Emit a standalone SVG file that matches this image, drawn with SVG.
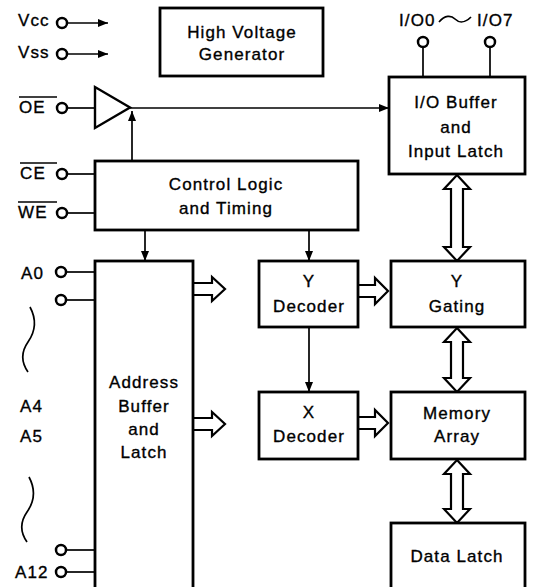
<svg xmlns="http://www.w3.org/2000/svg" width="533" height="587" viewBox="0 0 533 587">
<style>
.box{fill:#fff;stroke:#000;stroke-width:2.8}
.t{font-family:"Liberation Sans",Arial,sans-serif;font-size:17px;letter-spacing:1.1px;fill:#000;stroke:#000;stroke-width:0.35}
.c{text-anchor:middle}
.w{fill:none;stroke:#000;stroke-width:1.7}
.pin{fill:#fff;stroke:#000;stroke-width:2.5}
.hol{fill:#fff;stroke:#000;stroke-width:2.2;stroke-linejoin:miter}
.ob{stroke:#000;stroke-width:1.6}
</style>
<defs>
<marker id="ah" viewBox="0 0 10 8" refX="10" refY="4" markerWidth="10" markerHeight="8" markerUnits="userSpaceOnUse" orient="auto">
<path d="M0,0 L10,4 L0,8 Z" fill="#000"/>
</marker>
</defs>
<rect width="533" height="587" fill="#fff"/>

<g id="connectors">
<line class="w" x1="67" y1="23" x2="108" y2="23" marker-end="url(#ah)"/>
<line class="w" x1="67" y1="54" x2="108" y2="54" marker-end="url(#ah)"/>
<line class="w" x1="67" y1="108" x2="95" y2="108"/>
<line class="w" x1="130" y1="108" x2="389" y2="108" marker-end="url(#ah)"/>
<line class="w" x1="132" y1="161" x2="132" y2="111" marker-end="url(#ah)"/>
<line class="w" x1="67" y1="174" x2="95" y2="174"/>
<line class="w" x1="67" y1="213" x2="95" y2="213"/>
<line class="w" x1="145" y1="230" x2="145" y2="261" marker-end="url(#ah)"/>
<line class="w" x1="309" y1="230" x2="309" y2="261" marker-end="url(#ah)"/>
<line class="w" x1="309" y1="327" x2="309" y2="392" marker-end="url(#ah)"/>
<line class="w" x1="67" y1="272" x2="95" y2="272"/>
<line class="w" x1="67" y1="300" x2="95" y2="300"/>
<line class="w" x1="67" y1="550" x2="95" y2="550"/>
<line class="w" x1="67" y1="572" x2="95" y2="572"/>
<line class="w" x1="423" y1="47" x2="423" y2="77"/>
<line class="w" x1="490" y1="47" x2="490" y2="77"/>
<path class="w" d="M30,307 C37,320 35,332 28,342 C21,352 21,362 28,372"/>
<path class="w" d="M29,477 C36,490 34,502 27,512 C20,522 20,532 27,542"/>
<path class="hol" d="M193,283 H212 V277 L225,289 L212,301 V295 H193"/>
<path class="hol" d="M193,418 H212 V412 L225,424 L212,436 V430 H193"/>
<path class="hol" d="M358,285 H375 V278 L388,291 L375,304 V297 H358"/>
<path class="hol" d="M358,417 H375 V410 L388,423 L375,436 V429 H358"/>
<path class="hol" d="M457,175 L470,189 H463 V247 H470 L457,261 L444,247 H451 V189 H444 Z"/>
<path class="hol" d="M457,328 L470,342 H463 V378 H470 L457,392 L444,378 H451 V342 H444 Z"/>
<path class="hol" d="M457,460 L470,474 H463 V509 H470 L457,523 L444,509 H451 V474 H444 Z"/>
</g>

<g id="pins">
<circle class="pin" cx="62" cy="23" r="5"/>
<circle class="pin" cx="62" cy="54" r="5"/>
<circle class="pin" cx="62" cy="108" r="5"/>
<circle class="pin" cx="62" cy="174" r="5"/>
<circle class="pin" cx="62" cy="213" r="5"/>
<circle class="pin" cx="61" cy="272" r="5"/>
<circle class="pin" cx="61" cy="300" r="5"/>
<circle class="pin" cx="61" cy="550" r="5"/>
<circle class="pin" cx="61" cy="572" r="5"/>
<circle class="pin" cx="423" cy="42" r="5"/>
<circle class="pin" cx="490" cy="42" r="5"/>
<text class="t" x="18" y="26">Vcc</text>
<text class="t" x="18" y="58">Vss</text>
<text class="t" x="19" y="113">OE</text>
<line class="ob" x1="19" y1="97" x2="57" y2="97"/>
<text class="t" x="20" y="179">CE</text>
<line class="ob" x1="20" y1="163" x2="57" y2="163"/>
<text class="t" x="18" y="218">WE</text>
<line class="ob" x1="18" y1="202" x2="57" y2="202"/>
<text class="t" x="21" y="279">A0</text>
<text class="t" x="20" y="412">A4</text>
<text class="t" x="20" y="442">A5</text>
<text class="t" x="15" y="578">A12</text>
<text class="t" x="399" y="26">I/O0</text>
<path class="w" d="M439,22 C445,15 451,15 455,19 C459,23 465,23 471,17"/>
<text class="t" x="477" y="26">I/O7</text>
</g>

<g id="hvg">
<rect class="box" x="160" y="8" width="163" height="68"/>
<text class="t c" x="242" y="38">High Voltage</text>
<text class="t c" x="242" y="60">Generator</text>
</g>

<g id="oe-buffer">
<path class="box" d="M95,87 L95,128 L130,107.5 Z" style="stroke-width:2.4;stroke-linejoin:miter"/>
</g>

<g id="io-buffer">
<rect class="box" x="389" y="77" width="136" height="97"/>
<text class="t c" x="456" y="108">I/O Buffer</text>
<text class="t c" x="456" y="133">and</text>
<text class="t c" x="456" y="157">Input Latch</text>
</g>

<g id="control">
<rect class="box" x="95" y="161" width="263" height="69"/>
<text class="t c" x="226" y="190">Control Logic</text>
<text class="t c" x="226" y="214">and Timing</text>
</g>

<g id="address">
<rect class="box" x="95" y="261" width="98" height="340"/>
<text class="t c" x="144" y="388">Address</text>
<text class="t c" x="144" y="412">Buffer</text>
<text class="t c" x="144" y="435">and</text>
<text class="t c" x="144" y="458">Latch</text>
</g>

<g id="ydec">
<rect class="box" x="259" y="261" width="99" height="66"/>
<text class="t c" x="309" y="287">Y</text>
<text class="t c" x="309" y="312">Decoder</text>
</g>

<g id="xdec">
<rect class="box" x="259" y="392" width="99" height="67"/>
<text class="t c" x="309" y="418">X</text>
<text class="t c" x="309" y="442">Decoder</text>
</g>

<g id="ygating">
<rect class="box" x="391" y="261" width="134" height="66"/>
<text class="t c" x="457" y="287">Y</text>
<text class="t c" x="457" y="312">Gating</text>
</g>

<g id="memory">
<rect class="box" x="391" y="392" width="134" height="67"/>
<text class="t c" x="457" y="419">Memory</text>
<text class="t c" x="457" y="442">Array</text>
</g>

<g id="datalatch">
<rect class="box" x="391" y="523" width="134" height="80"/>
<text class="t c" x="457" y="562">Data Latch</text>
</g>
</svg>
